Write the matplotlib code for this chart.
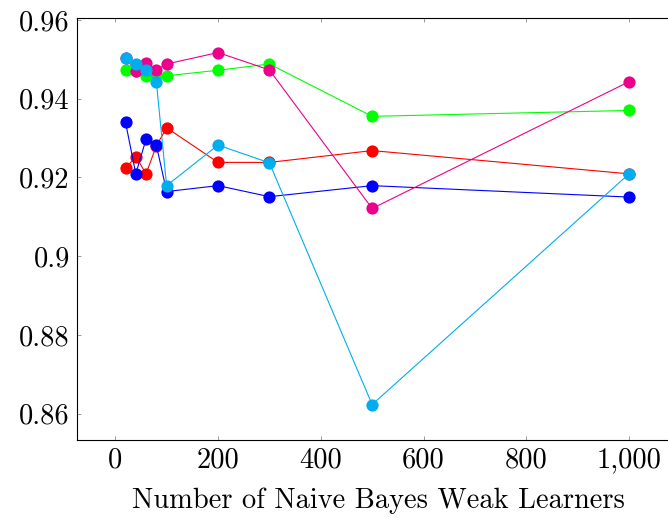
import matplotlib.pyplot as plt

plt.rcParams["font.family"] = "serif"
plt.rcParams["font.serif"] = ["cmr10", "DejaVu Serif"]
plt.rcParams["mathtext.fontset"] = "cm"
plt.rcParams["axes.unicode_minus"] = False

learners = [20, 40, 60, 80, 100, 200, 300, 500, 1000]

acc_red = [0.9223, 0.9253, 0.9209, 0.9280, 0.9326, 0.9238, 0.9238, 0.9268, 0.9209]
acc_blue = [0.9340, 0.9209, 0.9297, 0.9282, 0.9164, 0.9179, 0.9151, 0.9179, 0.9150]
acc_green = [0.9472, 0.9470, 0.9458, 0.9460, 0.9458, 0.9472, 0.9488, 0.9355, 0.9370]
acc_magenta = [0.9502, 0.9471, 0.9490, 0.9473, 0.9488, 0.9517, 0.9473, 0.9121, 0.9443]
acc_cyan = [0.9503, 0.9487, 0.9473, 0.9443, 0.9179, 0.9282, 0.9237, 0.8623, 0.9209]

x_ticks = [0, 200, 400, 600, 800, 1000]
x_tick_labels = ["0", "200", "400", "600", "800", "1,000"]
y_ticks = [0.86, 0.88, 0.90, 0.92, 0.94, 0.96]
y_tick_labels = ["0.86", "0.88", "0.9", "0.92", "0.94", "0.96"]

series = [
    (acc_red, "#ff0000"),
    (acc_blue, "#0000ff"),
    (acc_green, "#00ff00"),
    (acc_magenta, "#ec008c"),
    (acc_cyan, "#00aeef"),
]

fig = plt.figure(figsize=(6.68, 5.18), dpi=100)
ax = fig.add_axes([76.7 / 668, (518 - 440) / 518, (679.4 - 76.7) / 668, (440 - 18.3) / 518])

for values, color in series:
    ax.plot(learners, values, color=color, linewidth=0.8, marker="o",
            markersize=8.8, markeredgewidth=0, clip_on=False)

ax.set_xlim(-75, 1098)
ax.set_ylim(0.8533, 0.9604)
ax.set_xticks(x_ticks)
ax.set_xticklabels(x_tick_labels)
ax.set_yticks(y_ticks)
ax.set_yticklabels(y_tick_labels)
ax.tick_params(direction="in", length=3, width=0.6, color="#888888",
               top=True, right=True, labelsize=20.5, pad=5)
for spine in ax.spines.values():
    spine.set_linewidth(0.8)

ax.set_xlabel("Number of Naive Bayes Weak Learners", fontsize=20.5, labelpad=10)

fig.savefig("out.png", dpi=100)
